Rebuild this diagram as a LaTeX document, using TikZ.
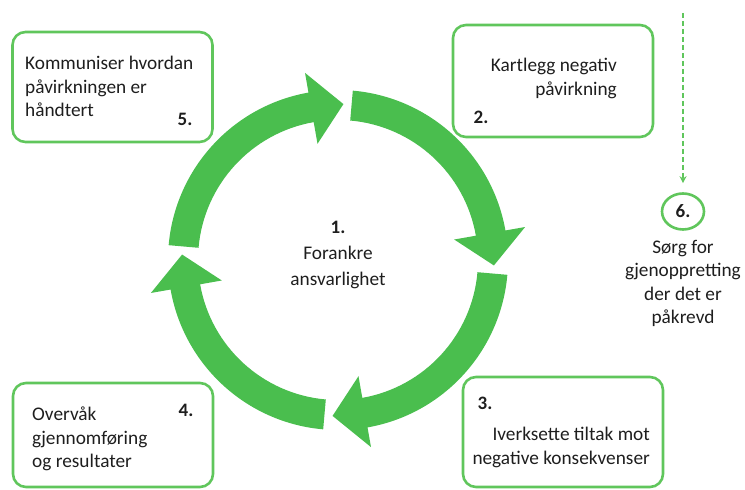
\documentclass[tikz,border=0pt]{standalone}
\usepackage{fontspec}
\setmainfont{Carlito}
\usetikzlibrary{arrows.meta, positioning, shapes.geometric}
\definecolor{ringgreen}{RGB}{74,190,78}
\definecolor{boxgreen}{RGB}{96,198,92}
\definecolor{txtgray}{RGB}{30,30,30}

\begin{document}
\begin{tikzpicture}[x=1pt,y=1pt,
  stepbox/.style={draw=boxgreen, line width=2.6pt, rounded corners=13pt, minimum width=200pt},
  steptext/.style={text=txtgray, font=\fontsize{19.3}{23.5}\selectfont},
  stepnum/.style={text=txtgray, font=\fontsize{19}{23}\selectfont\bfseries}]
\tikzstyle{every node}+=[inner sep=0pt]
\useasboundingbox (0,0) rectangle (745,490);
% ring of four arrows
\begin{scope}[shift={(338,230)}]
\foreach \s in {175,85,-5,-95} {
  \pgfmathsetmacro{\e}{\s-87}
  \pgfmathsetmacro{\b}{\s-75}
  \fill [ringgreen] (\s:170) arc [start angle=\s, end angle=\b, radius=170]
    -- (\b:190) -- (\e:156) -- (\b:118) -- (\b:140)
    arc [start angle=\b, end angle=\s, radius=140] -- cycle;
}
\end{scope}
\node [stepnum] (one) at (338,263) {1.};
\node [steptext, font=\fontsize{19.3}{26}\selectfont, align=center, anchor=north] (forankre) at (338,244) {Forankre\\ansvarlighet};
% step boxes
\node [stepbox, minimum height=110pt] (box5) at (112.5,403) {};
\node [steptext, align=left, anchor=north west] (txt5) at (25,434) {Kommuniser hvordan\\påvirkningen er\\håndtert};
\node [stepnum] (num5) at (185,371) {5.};
\node [stepbox, minimum height=112pt] (box2) at (553,409) {};
\node [steptext, align=right, anchor=north east] (txt2) at (617,432) {Kartlegg negativ\\påvirkning};
\node [stepnum] (num2) at (481,373) {2.};
\node [stepbox, minimum height=110pt] (box3) at (563,58) {};
\node [stepnum] (num3) at (485,87) {3.};
\node [steptext, align=right, anchor=north east] (txt3) at (650,63) {Iverksette tiltak mot\\negative konsekvenser};
\node [stepbox, minimum height=104pt] (box4) at (113,55) {};
\node [steptext, align=left, anchor=north west] (txt4) at (32,83) {Overvåk\\gjennomføring\\og resultater};
\node [stepnum] (num4) at (186,80) {4.};
% step 6
\coordinate (dashtop) at (683,477);
\node [ellipse, draw=boxgreen, line width=2.6pt, minimum width=42pt, minimum height=36pt, stepnum] (six) at (683,278.5) {6.};
\node [steptext, align=center, anchor=north] (txt6) at (683,250) {Sørg for\\gjenoppretting\\der det er\\påkrevd};
\draw [boxgreen, line width=1.8pt, dash pattern=on 5pt off 3pt, shorten >=9pt,
  -{Stealth[length=7pt,width=7pt]}] (dashtop) -- (six);
\end{tikzpicture}
\end{document}
